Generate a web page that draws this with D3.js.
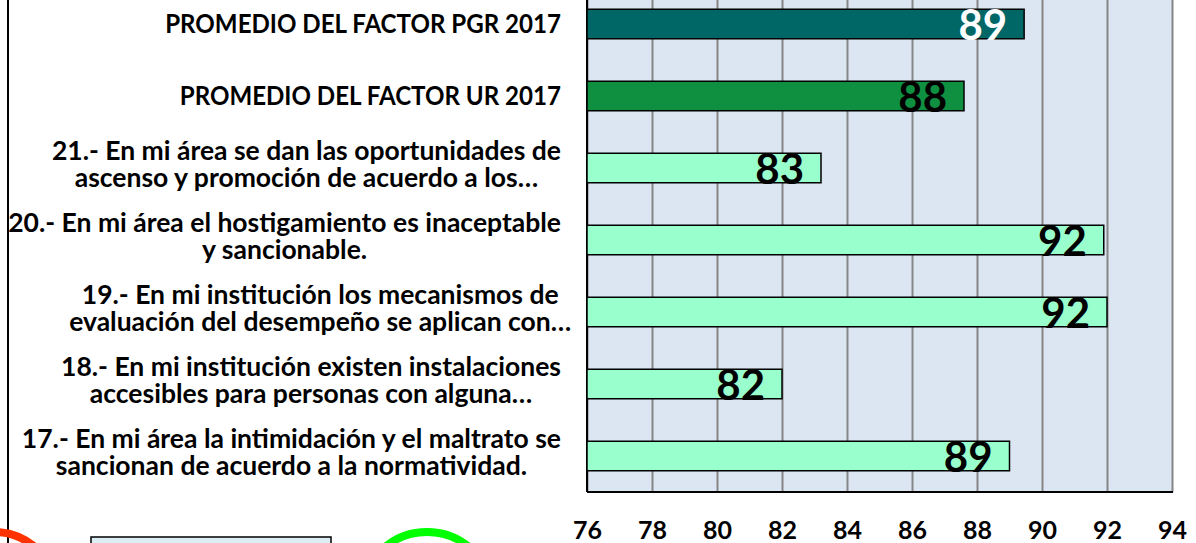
<!DOCTYPE html>
<html>
<head>
<meta charset="utf-8">
<script src="https://cdn.jsdelivr.net/npm/d3@7"></script>
<style>
html,body{margin:0;padding:0;background:#fff;overflow:hidden;}
svg{display:block;}
</style>
</head>
<body>
<svg id="chart" width="1196" height="543"></svg>
<script>
// ---- data ----
const categories = ["PGR", "UR", "21", "20", "19", "18", "17"];
const categoryLines = [
  ["PROMEDIO DEL FACTOR PGR 2017"],
  ["PROMEDIO DEL FACTOR UR 2017"],
  ["21.- En mi área se dan las oportunidades de", "ascenso y promoción de acuerdo a los…"],
  ["20.- En mi área el hostigamiento es inaceptable", "y sancionable."],
  ["19.- En mi institución los mecanismos de", "evaluación del desempeño se aplican con…"],
  ["18.- En mi institución existen instalaciones", "accesibles para personas con alguna…"],
  ["17.- En mi área la intimidación y el maltrato se", "sancionan de acuerdo a la normatividad."]
];
const values = [89.45, 87.6, 83.2, 91.9, 92.0, 82.0, 89.0];
const barColors = ["#006666", "#0e9040", "#99ffcc", "#99ffcc", "#99ffcc", "#99ffcc", "#99ffcc"];
const labelColors = ["#ffffff", "#000000", "#000000", "#000000", "#000000", "#000000", "#000000"];
const xTicks = [76, 78, 80, 82, 84, 86, 88, 90, 92, 94];

// ---- layout ----
const svg = d3.select("#chart");
const plot = {left: 587, right: 1172, top: -12, bottom: 492};
const FONT = "Lato, 'Open Sans', sans-serif";
const CAT_SIZE = 26.5;
const CAPS_CONDENSE = 0.91; // uppercase-only lines are narrower in the original face

const x = d3.scaleLinear().domain([76, 94]).range([plot.left, plot.right]);
const y = d3.scaleBand().domain(categories).range([plot.top, plot.bottom])
  .paddingInner(0.59).paddingOuter(0.295);

// outer left border
svg.append("line").attr("x1", 8).attr("x2", 8).attr("y1", 0).attr("y2", 543)
  .attr("stroke", "#000").attr("stroke-width", 2);

// plot background
svg.append("rect").attr("x", plot.left).attr("y", plot.top)
  .attr("width", plot.right - plot.left).attr("height", plot.bottom - plot.top)
  .attr("fill", "#dce6f2");

// gridlines via axis
const grid = svg.append("g").attr("transform", `translate(0,${plot.bottom})`)
  .call(d3.axisBottom(x).tickValues(xTicks).tickSize(-(plot.bottom - plot.top)).tickFormat(""));
grid.select(".domain").remove();
grid.selectAll(".tick line").attr("stroke", "#868686").attr("stroke-width", 2);

// axis lines
svg.append("line").attr("x1", plot.left).attr("x2", plot.left).attr("y1", plot.top).attr("y2", plot.bottom)
  .attr("stroke", "#000").attr("stroke-width", 2);
svg.append("line").attr("x1", plot.left).attr("x2", plot.right + 1).attr("y1", plot.bottom).attr("y2", plot.bottom)
  .attr("stroke", "#000").attr("stroke-width", 2);

// tick labels
const xAxis = svg.append("g").attr("transform", `translate(0,${plot.bottom})`)
  .call(d3.axisBottom(x).tickValues(xTicks).tickSize(0).tickPadding(0).tickFormat(d3.format("d")));
xAxis.select(".domain").remove();
xAxis.selectAll(".tick text")
  .attr("y", 47).attr("dy", 0)
  .attr("font-family", FONT).attr("font-weight", "bold").attr("font-size", 25).attr("fill", "#000");

// bars
svg.append("g").selectAll("rect").data(categories).join("rect")
  .attr("x", x(76))
  .attr("y", d => y(d))
  .attr("width", (d, i) => x(values[i]) - x(76))
  .attr("height", y.bandwidth())
  .attr("fill", (d, i) => barColors[i])
  .attr("stroke", "#000").attr("stroke-width", 1.5);

// value labels
svg.append("g").selectAll("text").data(categories).join("text")
  .attr("x", (d, i) => x(values[i]) - 17)
  .attr("y", d => y(d) + y.bandwidth() / 2 + 16)
  .attr("text-anchor", "end")
  .attr("font-family", FONT).attr("font-weight", "bold").attr("font-size", 42)
  .attr("fill", (d, i) => labelColors[i])
  .text((d, i) => d3.format(".0f")(values[i]));

// category labels (block right-aligned, lines centered within it)
const labelRight = 561;
const catG = svg.append("g");
categories.forEach((c, i) => {
  const lines = categoryLines[i];
  const cy = y(c) + y.bandwidth() / 2;
  if (lines.length === 1) {
    catG.append("text")
      .attr("font-family", FONT).attr("font-weight", "bold").attr("font-size", CAT_SIZE)
      .attr("fill", "#000").attr("text-anchor", "end")
      .attr("transform", `translate(${labelRight},${cy + 9}) scale(${CAPS_CONDENSE},1)`)
      .text(lines[0]);
    return;
  }
  const g = catG.append("g");
  const texts = lines.map((ln, k) => g.append("text")
    .attr("font-family", FONT).attr("font-weight", "bold").attr("font-size", CAT_SIZE)
    .attr("fill", "#000").attr("text-anchor", "middle")
    .attr("y", cy - 8 + k * 27)
    .text(ln));
  // measure width excluding trailing ellipsis
  const tmp = g.append("text").attr("font-family", FONT).attr("font-weight", "bold").attr("font-size", CAT_SIZE);
  let maxW = 0;
  lines.forEach(ln => {
    tmp.text(ln.replace(/…$/, ""));
    maxW = Math.max(maxW, tmp.node().getComputedTextLength());
  });
  tmp.remove();
  const cx = labelRight - maxW / 2;
  texts.forEach(t => t.attr("x", cx));
});

// decorative shapes at the bottom left
svg.append("rect").attr("x", 91).attr("y", 537).attr("width", 240).attr("height", 30)
  .attr("fill", "#daeef3").attr("stroke", "#000").attr("stroke-width", 1.5);
svg.append("circle").attr("cx", -7).attr("cy", 598).attr("r", 66)
  .attr("fill", "none").attr("stroke", "#ff3300").attr("stroke-width", 8);
svg.append("circle").attr("cx", 427).attr("cy", 598).attr("r", 66)
  .attr("fill", "none").attr("stroke", "#00ff00").attr("stroke-width", 8);
</script>
</body>
</html>
